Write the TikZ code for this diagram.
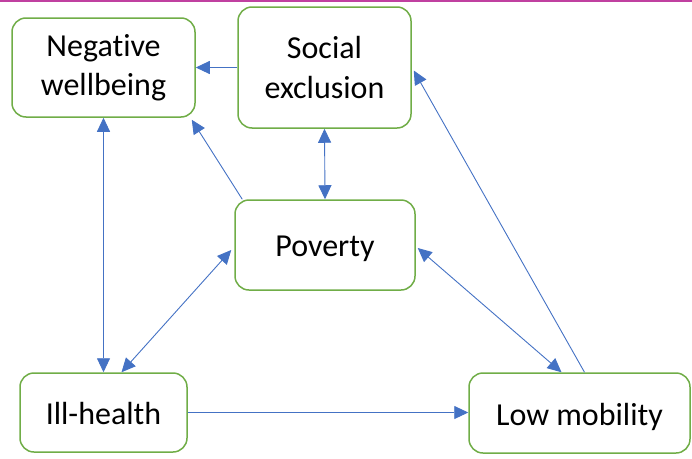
\documentclass[tikz,border=0pt]{standalone}
\usepackage{fontspec}
\setmainfont[Ligatures=NoCommon]{Carlito}
\usetikzlibrary{arrows.meta}
\definecolor{boxgreen}{RGB}{112,173,71}
\definecolor{arrblue}{RGB}{68,114,196}
\definecolor{topmag}{RGB}{192,64,160}
\begin{document}
\begin{tikzpicture}[x=1pt,y=1pt,
  box/.style={draw=boxgreen, line width=1.5pt, rounded corners=14pt, fill=white,
    align=center, inner sep=0pt, font=\fontsize{32}{41}\selectfont},
  conn/.style={draw=arrblue, line width=0.9pt},
  tip/.style={-{Triangle[length=14pt,width=13pt]}},
  tips/.style={{Triangle[length=14pt,width=13pt]}-{Triangle[length=14pt,width=13pt]}}]
\useasboundingbox (0,0) rectangle (692,-458);
\draw[topmag, line width=1.5pt] (0,-0.75) -- (692,-0.75);
\node[box, minimum width=183pt, minimum height=99pt] (nw) at (103.5,-67.5) {\raisebox{-1.5pt}{Negative}\\wellbeing};
\node[box, minimum width=173pt, minimum height=121pt] (se) at (324.5,-67.5) {\raisebox{-1.5pt}{Social}\\exclusion};
\node[box, minimum width=180pt, minimum height=90pt, text depth=0pt] (pov) at (325,-245) {\raisebox{-2pt}{Poverty}};
\node[box, minimum width=167pt, minimum height=79pt, text depth=0pt] (ill) at (103.5,-412.5) {\raisebox{-2pt}{Ill-health}};
\node[box, minimum width=221pt, minimum height=80pt, text depth=0pt] (low) at (579.5,-413) {\raisebox{-2pt}{Low mobility}};
\draw[conn, tip] (se.west) -- (se.west -| nw.east);
\draw[conn, tips] (nw.south) -- (ill.north);
\draw[conn, tip] ([xshift=8pt]pov.north west) -- ([xshift=-4pt,yshift=-2pt]nw.south east);
\draw[conn, tips] (se.south) -- (pov.north);
\draw[conn, tips] ([xshift=-3pt,yshift=-5pt]pov.west) -- ([xshift=18pt]ill.north);
\draw[conn, tips] ([xshift=2pt,yshift=-3pt]pov.east) -- ([xshift=-18pt]low.north);
\draw[conn, tip] ([xshift=5pt]low.north) -- ([xshift=2pt,yshift=-3pt]se.east);
\draw[conn, tip] (ill.east) -- (ill.east -| low.west);
\end{tikzpicture}
\end{document}
